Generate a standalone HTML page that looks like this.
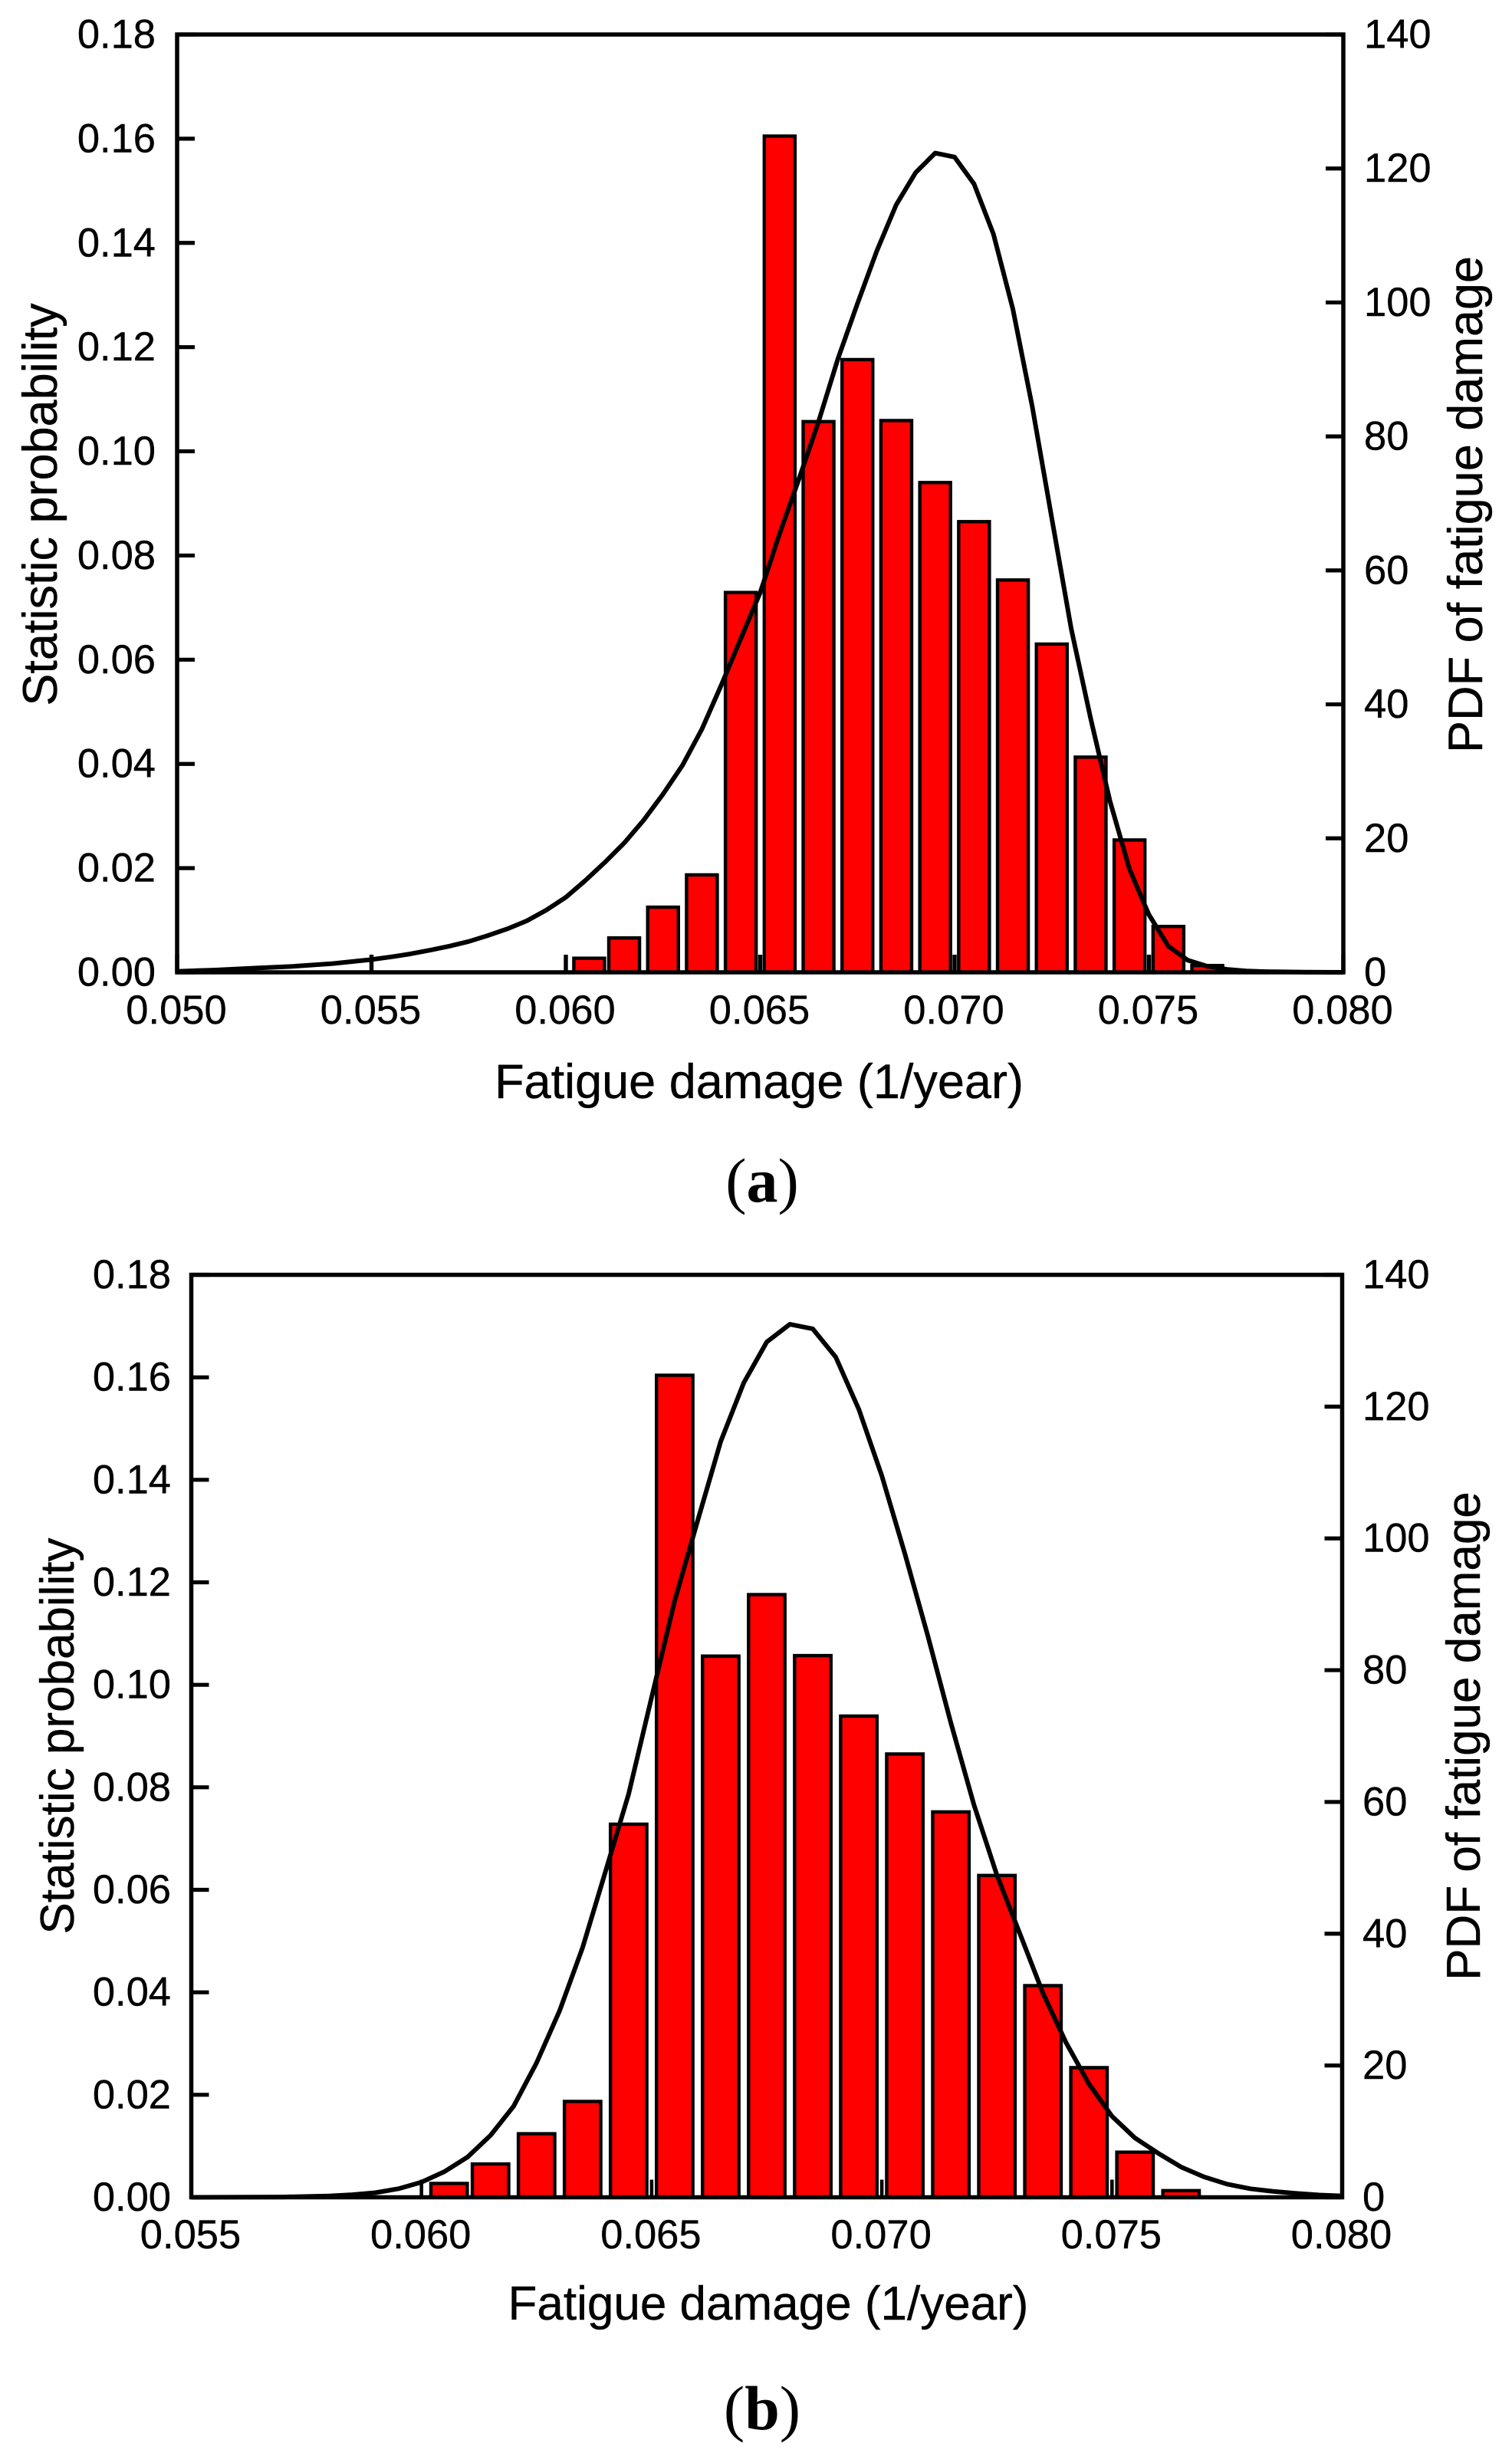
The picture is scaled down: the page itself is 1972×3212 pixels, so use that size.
<!DOCTYPE html>
<html lang="en">
<head>
<meta charset="utf-8">
<title>Fatigue damage histograms and PDFs</title>
<style>
html,body{margin:0;padding:0;background:#fff;}
body{width:1972px;height:3212px;overflow:hidden;}
svg{display:block;}
text{font-family:"Liberation Sans",Arial,sans-serif;fill:#000;}
.tick{font-size:52.5px;stroke:#000;stroke-width:0.4px;}
.title{font-size:63px;stroke:#000;stroke-width:0.4px;}
.title-b{font-size:62px;stroke:#000;stroke-width:0.4px;}
.cap{font-family:"Liberation Serif","Times New Roman",serif;font-size:82px;}
</style>
</head>
<body>
<svg id="figure" xmlns="http://www.w3.org/2000/svg" width="1972" height="3212" viewBox="0 0 1972 3212">
  <rect x="0" y="0" width="1972" height="3212" fill="#fff"/>
  <g id="panel-a">
    <g id="a-ticks"></g>
    <g id="a-bars"></g>
    <path id="a-curve" fill="none" stroke="#000" stroke-width="6" stroke-linejoin="round"/>
    <rect x="231" y="45" width="1521" height="1223" fill="none" stroke="#000" stroke-width="5.5"/>
    <g id="a-labels"></g>
    <text class="title" x="990" y="1432" text-anchor="middle">Fatigue damage (1/year)</text>
    <text class="title" transform="translate(74 658) rotate(-90)" text-anchor="middle">Statistic probability</text>
    <text class="title" transform="translate(1933 658) rotate(-90)" text-anchor="middle">PDF of fatigue damage</text>
    <text class="cap" x="994" y="1567" text-anchor="middle">(<tspan font-weight="bold">a</tspan>)</text>
  </g>
  <g id="panel-b">
    <g id="b-ticks"></g>
    <g id="b-bars"></g>
    <path id="b-curve" fill="none" stroke="#000" stroke-width="6" stroke-linejoin="round"/>
    <rect x="249.5" y="1662.5" width="1501" height="1203" fill="none" stroke="#000" stroke-width="5.5"/>
    <g id="b-labels"></g>
    <text class="title-b" x="1002" y="3025" text-anchor="middle">Fatigue damage (1/year)</text>
    <text class="title-b" transform="translate(96 2264) rotate(-90)" text-anchor="middle">Statistic probability</text>
    <text class="title-b" transform="translate(1930 2264) rotate(-90)" text-anchor="middle">PDF of fatigue damage</text>
    <text class="cap" x="994" y="3168" text-anchor="middle">(<tspan font-weight="bold">b</tspan>)</text>
  </g>
</svg>
<script>
// ---- shared categories and tick labels ----
var binCenters = [0.0606,0.0615,0.0625,0.0635,0.0645,0.0655,0.0665,0.0675,0.0685,0.0695,0.0705,0.0715,0.0725,0.0735,0.0745,0.0755,0.0765];
var leftTickLabels = ["0.00","0.02","0.04","0.06","0.08","0.10","0.12","0.14","0.16","0.18"];
var rightTickLabels = ["0","20","40","60","80","100","120","140"];
var xTickLabelsA = ["0.050","0.055","0.060","0.065","0.070","0.075","0.080"];
var xTickLabelsB = ["0.055","0.060","0.065","0.070","0.075","0.080"];

// ---- panel (a) series ----
var barValuesA = [0.0027,0.0066,0.0125,0.0187,0.0729,0.1605,0.1057,0.1176,0.1059,0.0940,0.0865,0.0753,0.0630,0.0413,0.0254,0.0088,0.0013];
var pdfXA = [0.05,0.051,0.052,0.053,0.054,0.055,0.0555,0.056,0.0565,0.057,0.0575,0.058,0.0585,0.059,0.0595,0.06,0.0605,0.061,0.0615,0.062,0.0625,0.063,0.0635,0.064,0.0645,0.065,0.0655,0.066,0.0665,0.067,0.0675,0.068,0.0685,0.069,0.0695,0.07,0.0705,0.071,0.0715,0.072,0.0725,0.073,0.0735,0.074,0.0745,0.075,0.0755,0.076,0.0765,0.077,0.0775,0.078,0.079,0.08];
var pdfYA = [0.15,0.35,0.63,0.9,1.3,1.9,2.3,2.75,3.3,3.9,4.6,5.5,6.5,7.7,9.3,11.2,13.7,16.4,19.3,22.7,26.6,30.9,36.3,42.9,49.8,56.7,65.5,73.7,82.2,91.6,99.8,107.7,114.6,119.4,122.3,121.7,117.7,110.2,99,84.4,67.8,51.3,37.9,25.5,15.4,8.6,3.9,1.8,0.9,0.45,0.2,0.1,0.03,0];

// ---- panel (b) series ----
var barValuesB = [0.0027,0.0065,0.0124,0.0187,0.0728,0.1604,0.1056,0.1176,0.1057,0.0939,0.0865,0.0752,0.0628,0.0413,0.0253,0.0088,0.0013];
var pdfXB = [0.055,0.057,0.058,0.0585,0.059,0.0595,0.06,0.0605,0.061,0.0615,0.062,0.0625,0.063,0.0635,0.064,0.0645,0.065,0.0655,0.066,0.0665,0.067,0.0675,0.068,0.0685,0.069,0.0695,0.07,0.0705,0.071,0.0715,0.072,0.0725,0.073,0.0735,0.074,0.0745,0.075,0.0755,0.076,0.0765,0.077,0.0775,0.078,0.0785,0.079,0.0795,0.08];
var pdfYB = [0,0.05,0.2,0.4,0.7,1.3,2.3,3.9,6.1,9.4,13.8,20.4,28.3,37.9,49.5,61.2,75.9,90.5,102.7,114.7,123.6,129.8,132.5,131.8,127.5,119.6,109.5,97.7,85.2,72,59.6,48.9,40,31,23.5,17.2,12.3,9,6.7,4.6,3.1,2,1.3,0.9,0.6,0.35,0.2];

var SVGNS = 'http://www.w3.org/2000/svg';

function make(tag, parent) {
  var el = document.createElementNS(SVGNS, tag);
  parent.appendChild(el);
  return el;
}

function drawPanel(p, xLabels, barValues, pdfX, pdfY, box) {
  var xMin = parseFloat(xLabels[0]);
  var xMax = parseFloat(xLabels[xLabels.length - 1]);
  var leftMax = parseFloat(leftTickLabels[leftTickLabels.length - 1]);
  var rightMax = parseFloat(rightTickLabels[rightTickLabels.length - 1]);
  function xScale(v) { return box.left + (v - xMin) / (xMax - xMin) * (box.right - box.left); }
  function yLeft(v) { return box.bottom - v / leftMax * (box.bottom - box.top); }
  function yRight(v) { return box.bottom - v / rightMax * (box.bottom - box.top); }

  var ticks = document.getElementById(p + '-ticks');
  var labels = document.getElementById(p + '-labels');
  var bars = document.getElementById(p + '-bars');
  var i, el, px, py;

  for (i = 0; i < xLabels.length; i++) {
    px = xScale(parseFloat(xLabels[i]));
    el = make('line', ticks);
    
    
    el.setAttribute('x1', px); el.setAttribute('x2', px);
    el.setAttribute('y1', box.bottom); el.setAttribute('y2', box.bottom - 23);
    el.setAttribute('stroke', '#000'); el.setAttribute('stroke-width', box.tickW);

    el = make('text', labels);
    
    
    el.setAttribute('class', 'tick');
    el.setAttribute('x', px - 1);
    el.setAttribute('y', box.xLabelY);
    el.setAttribute('text-anchor', 'middle');
    el.textContent = xLabels[i];
  }

  for (i = 0; i < leftTickLabels.length; i++) {
    py = yLeft(parseFloat(leftTickLabels[i]));
    el = make('line', ticks);
    
    
    el.setAttribute('x1', box.left); el.setAttribute('x2', box.left + 23);
    el.setAttribute('y1', py); el.setAttribute('y2', py);
    el.setAttribute('stroke', '#000'); el.setAttribute('stroke-width', 5.2);

    el = make('text', labels);
    
    
    el.setAttribute('class', 'tick');
    el.setAttribute('x', box.leftLabelX);
    el.setAttribute('y', py + 17.5);
    el.setAttribute('text-anchor', 'end');
    el.textContent = leftTickLabels[i];
  }

  for (i = 0; i < rightTickLabels.length; i++) {
    py = yRight(parseFloat(rightTickLabels[i]));
    el = make('line', ticks);
    
    
    el.setAttribute('x1', box.right); el.setAttribute('x2', box.right - 23);
    el.setAttribute('y1', py); el.setAttribute('y2', py);
    el.setAttribute('stroke', '#000'); el.setAttribute('stroke-width', 5.2);

    el = make('text', labels);
    
    
    el.setAttribute('class', 'tick');
    el.setAttribute('x', box.rightLabelX);
    el.setAttribute('y', py + 17.5);
    el.textContent = rightTickLabels[i];
  }

  var barWidth = 0.00079;
  for (i = 0; i < binCenters.length; i++) {
    var x0 = xScale(binCenters[i] - barWidth / 2);
    var x1 = xScale(binCenters[i] + barWidth / 2);
    var yTop = yLeft(barValues[i]);
    el = make('rect', bars);
    
    
    el.setAttribute('x', x0);
    el.setAttribute('y', yTop);
    el.setAttribute('width', x1 - x0);
    el.setAttribute('height', box.bottom - yTop);
    el.setAttribute('fill', '#ff0000');
    el.setAttribute('stroke', '#000');
    el.setAttribute('stroke-width', 4.4);
  }

  var d = '';
  for (i = 0; i < pdfX.length; i++) {
    d += (i ? 'L' : 'M') + xScale(pdfX[i]).toFixed(2) + ' ' + yRight(pdfY[i]).toFixed(2);
  }
  document.getElementById(p + '-curve').setAttribute('d', d);
}

drawPanel('a', xTickLabelsA, barValuesA, pdfXA, pdfYA,
  {left: 231, right: 1752, top: 45, bottom: 1268, xLabelY: 1335, leftLabelX: 203, rightLabelX: 1779, tickW: 5.4});
drawPanel('b', xTickLabelsB, barValuesB, pdfXB, pdfYB,
  {left: 249.5, right: 1750.5, top: 1662.5, bottom: 2865.5, xLabelY: 2932, leftLabelX: 223, rightLabelX: 1777, tickW: 4.6});
</script>
</body>
</html>
